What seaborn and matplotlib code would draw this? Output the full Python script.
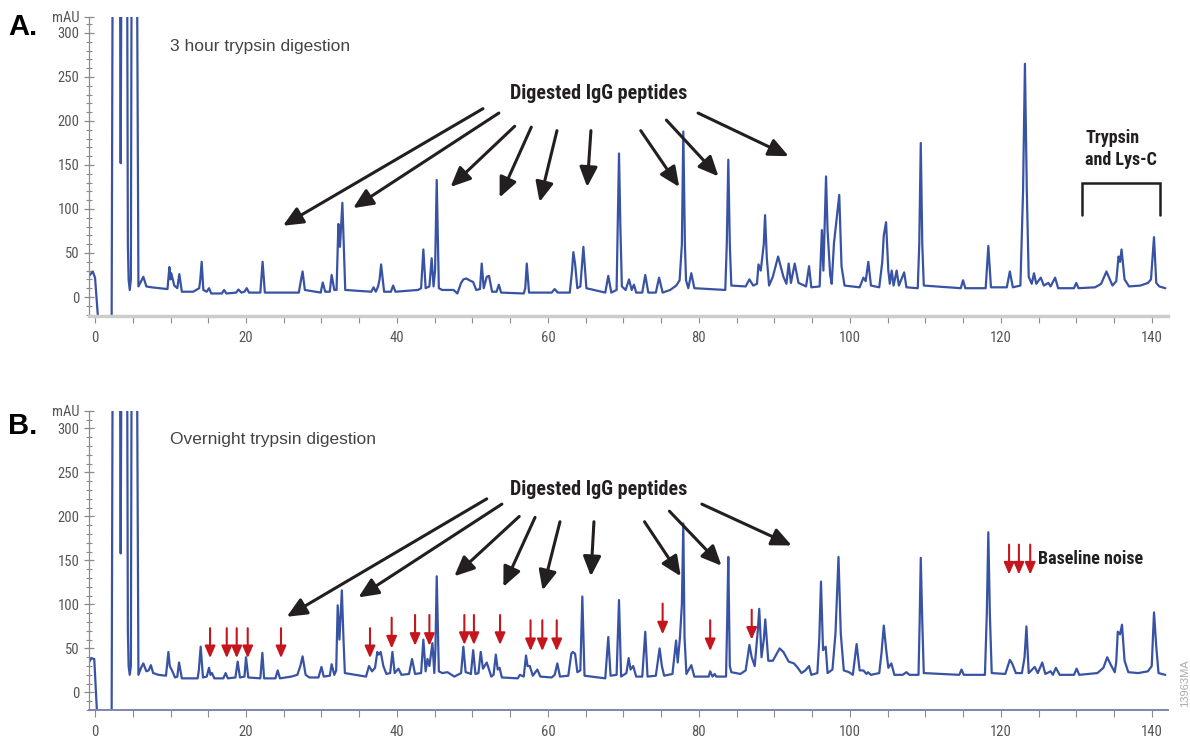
import numpy as np
import matplotlib
matplotlib.use("Agg")
import matplotlib.pyplot as plt
from matplotlib import font_manager as fm
import seaborn as sns

# visual
sns.set_style("white")

# fonte condensada (Helvetica Condensed no original) - usa o que existir
_fontes = fm.fontManager.ttflist
_nomes = {f.name for f in _fontes}
if "Liberation Sans Narrow" in _nomes:
    FAMILIA, STRETCH, ESCALA = "Liberation Sans Narrow", "normal", 1.0
elif "Roboto Condensed" in _nomes:
    FAMILIA, STRETCH, ESCALA = "Roboto Condensed", "normal", 1.0
elif any(f.name == "DejaVu Sans" and "Condensed" in f.fname for f in _fontes):
    FAMILIA, STRETCH, ESCALA = "DejaVu Sans", "condensed", 0.9
else:
    FAMILIA, STRETCH, ESCALA = "Liberation Sans", "normal", 0.8

plt.rcParams["font.family"] = [FAMILIA, "DejaVu Sans"]
plt.rcParams["font.stretch"] = STRETCH

AZUL = "#3953a4"
PRETO = "#231f20"
VERMELHO = "#c4161c"
CINZA = "#555555"

# ---- chromatogram A (3 hour digestion): retention time (min) / absorbance (mAU)
a_time = [-0.86, -0.3, 0.0, 0.45, 2.2, 2.34, 3.3, 3.4, 3.5, 4.25, 4.35, 4.45, 4.6, 4.75, 4.85,
          5.55, 5.75, 6.1, 6.4, 6.8, 7.5, 8.5, 9.6, 9.85, 10.0, 10.1, 10.5, 10.9, 11.17, 11.5,
          13.0, 13.8, 13.95, 14.13, 14.35, 14.8, 15.1, 15.4, 16.8, 17.1, 17.4, 18.7, 19.0, 19.4,
          19.8, 20.1, 20.4, 21.9, 22.2, 22.5, 27.0, 27.3, 27.5, 27.8, 29.9, 30.17, 30.5, 31.1,
          31.35, 31.7, 32.0, 32.24, 32.45, 32.77, 32.95, 33.15, 36.6, 36.9, 37.2, 37.5, 37.7,
          37.9, 38.3, 39.2, 39.5, 39.8, 42.8, 43.2, 43.5, 43.8, 44.3, 44.6, 44.85, 45.05, 45.27,
          45.55, 46.0, 47.5, 48.0, 48.5, 48.8, 49.2, 49.6, 50.1, 50.5, 51.0, 51.23, 51.5, 51.9,
          52.2, 52.6, 53.2, 53.5, 53.8, 56.8, 57.0, 57.2, 57.5, 60.5, 60.9, 61.3, 62.9, 63.2,
          63.37, 63.6, 63.9, 64.3, 64.7, 65.1, 67.6, 68.0, 68.4, 69.1, 69.25, 69.42, 69.6, 69.8,
          70.3, 70.75, 71.1, 71.4, 71.7, 72.5, 72.9, 73.3, 74.3, 74.73, 75.2, 76.2, 77.0, 77.45,
          77.75, 77.94, 78.15, 78.3, 78.6, 79.0, 79.4, 83.5, 83.7, 83.9, 84.1, 84.3, 86.2, 86.7,
          87.2, 87.7, 87.9, 88.2, 88.6, 88.77, 89.0, 89.3, 89.8, 90.5, 91.2, 91.6, 91.9, 92.2,
          92.7, 93.2, 94.2, 94.6, 94.9, 96.0, 96.3, 96.5, 96.85, 97.05, 97.4, 97.6, 97.9, 98.6,
          98.9, 99.3, 101.3, 101.8, 102.1, 102.45, 102.8, 103.9, 104.3, 104.5, 104.8, 105.1,
          105.3, 105.55, 105.8, 106.2, 106.5, 107.2, 107.5, 109.0, 109.2, 109.4, 109.6, 109.8,
          114.7, 115.0, 115.3, 118.0, 118.35, 118.7, 120.8, 121.2, 121.6, 122.6, 122.95, 123.2,
          123.45, 123.7, 124.1, 124.4, 124.7, 125.3, 125.7, 126.3, 126.6, 127.2, 127.6, 129.7,
          130.0, 130.3, 132.5, 133.3, 134.0, 134.8, 135.3, 135.6, 135.8, 136.0, 136.4, 137.0,
          138.5, 139.5, 139.9, 140.3, 140.6, 141.0, 141.8]
a_mau = [23, 29, 22, -30, -30, 400, 400, 152, 400, 400, 60, 20, 8, 20, 400,
         400, 12, 18, 23, 12, 11, 10, 9, 34, 20, 27, 13, 10, 26, 6,
         6, 10, 20, 40, 8, 6, 10, 4, 4, 8, 4, 5, 8.5, 5,
         6, 10, 5, 5, 40, 5, 5, 20, 29, 8, 5, 16.5, 6, 6,
         25, 8, 8, 83, 57, 107, 60, 8, 6, 11, 6, 12, 20,
         37, 6, 6, 13, 6, 8, 10, 54, 10, 12, 44, 12, 30, 133,
         10, 8, 8, 4, 16, 20, 21, 19, 17, 8, 9, 38, 10, 23,
         24, 6, 6, 14, 5, 4, 10, 38, 5, 5, 9, 5, 5, 30,
         51, 38, 10, 12, 57, 10, 5, 24, 5, 8, 80, 163, 80, 12,
         8, 20, 8, 14, 5, 5, 25, 5, 5, 22, 5, 8, 13, 19,
         60, 188, 60, 19, 10, 27, 10, 8, 60, 156, 60, 13, 12, 20,
         13, 15, 37, 30, 60, 93, 45, 13, 23, 46, 23, 15, 38, 16,
         38, 16, 12, 35, 11, 12, 76, 30, 137, 76, 25, 15, 61, 116,
         35, 13, 11, 22, 18, 40, 13, 11, 40, 70, 85, 30,
         15, 30, 13, 30, 13, 28, 11, 10, 60, 175, 60, 13,
         10, 19, 10, 10, 58, 11, 11, 29, 11, 13, 120, 265,
         120, 23, 15, 27, 15, 22, 13, 16, 12, 22, 10, 10,
         16, 10, 11, 15, 29, 13, 18, 46, 40, 54, 20, 12,
         13, 16, 20, 68, 16, 12, 10]

# ---- chromatogram B (overnight digestion)
b_time = [-0.86, -0.5, -0.1, 0.3, 2.2, 2.34, 3.3, 3.4, 3.5, 4.25, 4.35, 4.45, 4.6, 4.75, 4.85,
          5.55, 5.75, 6.1, 6.4, 6.8, 7.1, 7.4, 7.7, 8.4, 9.4, 9.72, 9.9, 10.2, 10.6, 10.9, 11.13,
          11.5, 13.6, 13.75, 14.0, 14.3, 14.8, 15.1, 15.3, 15.5, 15.8, 17.0, 17.3, 17.6, 18.6,
          18.9, 19.2, 19.8, 20.0, 20.3, 21.9, 22.17, 22.4, 23.9, 24.2, 24.5, 26.0, 26.8, 27.2,
          27.5, 27.9, 28.4, 29.6, 30.0, 30.3, 31.1, 31.35, 31.7, 31.95, 32.15, 32.38, 32.7,
          32.92, 33.1, 35.9, 36.3, 36.7, 37.1, 37.4, 37.6, 37.85, 38.2, 38.6, 39.1, 39.4, 39.7,
          40.2, 40.6, 41.6, 42.0, 42.4, 43.2, 43.5, 43.8, 44.05, 44.3, 44.7, 44.95, 45.1, 45.27,
          45.55, 46.0, 46.7, 47.6, 48.5, 48.8, 49.1, 49.5, 49.8, 50.1, 50.4, 50.8, 51.1, 51.4,
          51.9, 52.2, 52.5, 52.8, 53.1, 53.35, 53.6, 53.9, 56.0, 56.3, 56.8, 57.1, 57.3, 57.6,
          58.0, 58.6, 59.0, 60.5, 60.9, 61.25, 61.6, 62.7, 63.1, 63.3, 63.6, 63.9, 64.3, 64.56,
          64.85, 67.6, 68.0, 68.3, 69.1, 69.42, 69.7, 70.4, 70.7, 70.95, 71.3, 71.7, 72.5, 72.9,
          73.2, 74.3, 74.8, 75.1, 75.4, 76.5, 76.98, 77.2, 77.5, 77.75, 77.94, 78.1, 78.35, 79.0,
          79.4, 80.3, 81.3, 81.5, 81.8, 82.1, 82.3, 83.6, 83.75, 83.9, 84.1, 84.3, 85.5, 86.2,
          86.7, 87.0, 87.4, 87.8, 88.0, 88.3, 88.6, 88.8, 89.2, 89.8, 90.7, 91.2, 91.9, 92.6,
          93.1, 93.6, 94.1, 94.6, 94.9, 95.7, 95.95, 96.18, 96.45, 96.8, 97.05, 97.7, 98.1, 98.5,
          98.8, 99.2, 99.9, 100.4, 100.9, 101.3, 101.8, 102.2, 102.4, 102.8, 103.9, 104.2, 104.5,
          104.8, 105.1, 105.5, 105.9, 107.0, 107.5, 107.9, 109.1, 109.25, 109.4, 109.6, 109.8,
          114.5, 114.8, 115.1, 117.9, 118.15, 118.35, 118.55, 118.8, 120.6, 121.2, 121.5, 122.0,
          122.8, 123.15, 123.4, 123.7, 124.5, 124.9, 125.5, 125.9, 126.6, 126.9, 127.3, 127.8,
          129.7, 130.05, 130.4, 132.8, 133.6, 134.1, 134.6, 135.1, 135.3, 135.5, 135.8, 136.06,
          136.4, 136.9, 138.2, 139.5, 140.0, 140.3, 140.6, 140.9, 141.8]
b_mau = [33, 38.8, 38, -30, -30, 400, 400, 158, 400, 400, 70, 30, 20, 30, 400,
         400, 20, 28, 33, 24, 25, 31, 22, 20, 19, 46, 30, 25, 17, 18, 34,
         16, 16, 25, 52, 17, 18, 28, 20, 22, 16, 16, 22, 16, 17,
         35, 17, 18, 40, 17, 16, 45, 16, 16, 25, 16, 18, 20, 30,
         41, 20, 17, 17, 29, 18, 19, 32, 20, 25, 99, 60, 116,
         60, 22, 18, 30, 24, 28, 46, 43, 46, 30, 21, 22, 46, 22,
         27, 20, 21, 38, 21, 22, 60, 24, 38, 30, 56, 22, 50, 132,
         24, 22, 23, 18, 22, 52, 23, 22, 21, 48, 21, 22, 46, 27,
         34, 26, 18, 20, 43, 26, 28, 17, 16, 20, 18, 42, 30, 30,
         19, 26, 18, 17, 20, 33, 18, 19, 44, 46, 44, 23, 25, 109,
         19, 16, 63, 19, 20, 105, 18, 22, 39, 26, 30, 18, 18, 69,
         18, 19, 50, 30, 19, 21, 59, 34, 63, 100, 192, 63, 21, 31,
         18, 18, 18, 24, 18, 21, 18, 18, 80, 154, 30, 23, 21, 25,
         54, 40, 30, 70, 95, 40, 60, 83, 36, 36, 50, 46, 35, 33,
         28, 22, 25, 30, 20, 22, 60, 126, 48, 52, 22, 26, 67, 154,
         67, 25, 23, 20, 55, 25, 25, 21, 23, 20, 22, 45, 76,
         50, 28, 33, 20, 20, 23, 20, 20, 80, 153, 80, 22,
         20, 26, 20, 20, 90, 182, 90, 22, 21, 37, 33, 22,
         22, 40, 75, 22, 29, 22, 34, 21, 24, 20, 28, 20,
         20, 27, 20, 22, 28, 40, 31, 23, 35, 69, 66, 77,
         36, 23, 22, 24, 30, 91, 52, 22, 20]

# black annotation arrows (start time, start mAU) -> (tip time, tip mAU)
a_arrow_from = [(51.4, 214), (53.5, 209), (55.6, 194), (57.8, 193), (61.2, 189),
                (65.7, 189), (72.3, 189), (75.7, 201), (79.9, 209)]
a_arrow_to = [(24.9, 81), (34.2, 101), (47.1, 125), (53.6, 113), (58.9, 108),
              (65.2, 125), (77.4, 125), (82.6, 137), (91.9, 160)]
b_arrow_from = [(51.9, 220), (53.9, 214), (56.2, 200), (58.3, 199), (61.6, 194),
                (66.1, 194), (72.8, 194), (76.1, 206), (80.4, 214)]
b_arrow_to = [(25.4, 86), (34.9, 108), (47.6, 132), (54.1, 120), (59.3, 116),
              (65.7, 132), (77.6, 132), (83.0, 144), (92.3, 167)]

# red arrows in B: time, top, tip
red_time = [15.24, 17.45, 18.77, 20.23, 24.64, 36.43, 39.3, 42.4, 44.3, 48.93, 50.2, 53.66,
            57.7, 59.26, 61.17, 75.2, 81.5, 87.0, 121.1, 122.4, 123.9]
red_top = [73, 73, 73, 73, 73, 73, 85, 88, 88, 88, 88, 88,
           82, 82, 82, 101, 82, 94, 168, 168, 168]
red_tip = [39, 39, 39, 39, 39, 39, 50, 53, 53, 54, 54, 54,
           47, 47, 47, 66, 47, 60, 134, 134, 134]

fig = plt.figure(figsize=(11.9, 7.38), dpi=100)
ax_a = fig.add_axes([0.0744, 0.5718, 0.9074, 0.4056])
ax_b = fig.add_axes([0.0744, 0.0379, 0.9074, 0.4056])

TAM_TICK = 10.5 * ESCALA / 0.9 if ESCALA < 1 else 10.5
TAM_TICK = min(TAM_TICK, 10.5)


def estilo(ax, ylo, yhi, cor_base, lw_base):
    ax.set_xlim(-0.86, 142.2)
    ax.set_ylim(ylo, yhi)
    for s in ["top", "right"]:
        ax.spines[s].set_visible(False)
    ax.spines["left"].set_color("#8c8c8c")
    ax.spines["left"].set_linewidth(0.9)
    ax.spines["bottom"].set_color(cor_base)
    ax.spines["bottom"].set_linewidth(lw_base)
    ax.set_yticks([0, 50, 100, 150, 200, 250, 300, yhi])
    ax.set_yticklabels(["0", "50", "100", "150", "200", "250", "300", "mAU"])
    ax.set_yticks(np.arange(-20, 320, 10), minor=True)
    ax.set_xticks(np.arange(0, 141, 20))
    ax.set_xticks(np.arange(0, 141, 5), minor=True)
    ax.tick_params(axis="y", which="major", direction="inout", length=7, width=0.9,
                   color="#8c8c8c", labelsize=TAM_TICK, labelcolor=CINZA, pad=3, left=True)
    ax.tick_params(axis="y", which="minor", direction="inout", length=4.5, width=0.8,
                   color="#8c8c8c", left=True)
    ax.tick_params(axis="x", which="both", direction="out", length=5, width=0.8,
                   color="#8c8c8c", labelsize=TAM_TICK, labelcolor=CINZA, pad=6, bottom=True)
    ax.set_xlabel("")
    ax.set_ylabel("")
    ax.grid(False)


def setas(ax, origem, destino):
    for (x0, y0), (x1, y1) in zip(origem, destino):
        ax.annotate("", xy=(x1, y1), xytext=(x0, y0),
                    arrowprops=dict(arrowstyle="-|>,head_length=0.6,head_width=0.27",
                                    mutation_scale=20, lw=2.2, color=PRETO,
                                    shrinkA=0, shrinkB=0))


TAM_TITULO = 14.5 * ESCALA
TAM_NOTA = 13 * ESCALA
PESO = "bold"

# A ---------------------------------------------
sns.lineplot(x=a_time, y=a_mau, ax=ax_a, color=AZUL, linewidth=1.6,
             estimator=None, sort=False)
estilo(ax_a, -21.6, 318.5, "#cccccc", 2.5)
ax_a.text(9.94, 285, "3 hour trypsin digestion", fontsize=12.5, color="#444444",
          ha="left", va="center", family=["Liberation Sans", "DejaVu Sans"])
ax_a.text(66.7, 231, "Digested IgG peptides", fontsize=TAM_TITULO, color=PRETO,
          ha="center", va="center", fontweight=PESO)
setas(ax_a, a_arrow_from, a_arrow_to)
ax_a.text(131.2, 168, "Trypsin\nand Lys-C", fontsize=TAM_NOTA, color=PRETO, ha="left",
          va="center", linespacing=1.25, fontweight=PESO)
ax_a.plot([130.7, 130.7, 141.1, 141.1], [93, 129, 129, 93], color=PRETO, lw=1.8,
          solid_joinstyle="miter")

# B ---------------------------------------------
sns.lineplot(x=b_time, y=b_mau, ax=ax_b, color=AZUL, linewidth=1.6,
             estimator=None, sort=False)
estilo(ax_b, -19.9, 320.2, "#7d86ad", 1.4)
ax_b.text(9.94, 287, "Overnight trypsin digestion", fontsize=12.5, color="#444444",
          ha="left", va="center", family=["Liberation Sans", "DejaVu Sans"])
ax_b.text(66.7, 231, "Digested IgG peptides", fontsize=TAM_TITULO, color=PRETO,
          ha="center", va="center", fontweight=PESO)
setas(ax_b, b_arrow_from, b_arrow_to)
for t, y0, y1 in zip(red_time, red_top, red_tip):
    ax_b.annotate("", xy=(t, y1), xytext=(t, y0),
                  arrowprops=dict(arrowstyle="-|>,head_length=0.6,head_width=0.26",
                                  mutation_scale=12, lw=1.5, color=VERMELHO,
                                  shrinkA=0, shrinkB=0))
ax_b.text(124.9, 152, "Baseline noise", fontsize=TAM_NOTA, color=PRETO, ha="left",
          va="center", fontweight=PESO)

# panel letters + code
fig.text(0.0067, 0.9638, "A.", fontsize=21, fontweight="bold", color="black",
         ha="left", va="center", family=["Liberation Sans", "DejaVu Sans"], stretch="normal")
fig.text(0.0067, 0.4228, "B.", fontsize=21, fontweight="bold", color="black",
         ha="left", va="center", family=["Liberation Sans", "DejaVu Sans"], stretch="normal")
fig.text(0.9958, 0.0745, "13963MA", fontsize=8, color="#aaaaaa", rotation=90,
         ha="center", va="center", family=["Liberation Sans", "DejaVu Sans"], stretch="normal")

fig.savefig("out.png", dpi=100)
